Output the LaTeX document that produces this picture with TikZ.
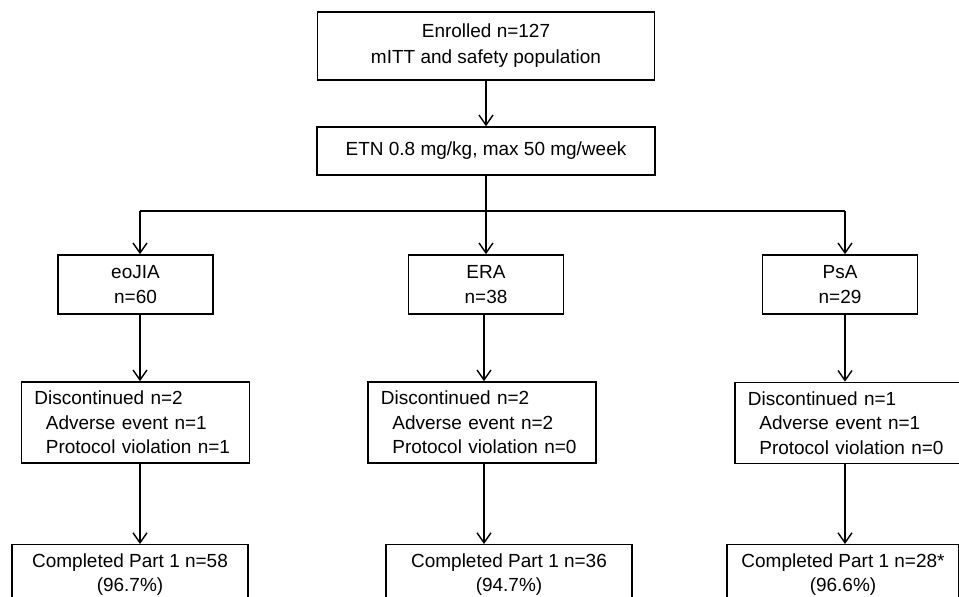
\documentclass[tikz,border=0pt]{standalone}
\usepackage{fontspec}
\setmainfont{Liberation Sans}
\usetikzlibrary{arrows.meta}

\begin{document}
\begin{tikzpicture}[x=0.025cm,y=-0.025cm,
    >={Straight Barb[length=2.5mm,width=3.5mm]},
    every node/.style={font=\fontsize{13.5}{17.5}\selectfont},
    box/.style={draw,line width=1pt,inner sep=0pt,align=center},
    group/.style={box,minimum width=3.88cm,minimum height=1.48cm},
    reason/.style={box,align=left,text width=5.05cm,minimum width=5.7cm,minimum height=2.03cm},
    done/.style={box,anchor=north,minimum height=1.5cm},
    flow/.style={->,line width=1pt}]

    \useasboundingbox (0,0) rectangle (959,597);
    \clip (0,0) rectangle (959,597);

    % enrolment and treatment
    \node[box,minimum width=8.43cm,minimum height=1.7cm] (enrol) at (486,46) {Enrolled n=127\\[1pt]mITT and safety population};
    \node[box,minimum width=8.45cm,minimum height=1.2cm] (etn) at (486,151) {ETN 0.8 mg/kg, max 50 mg/week};
    \draw[flow] (enrol) -- (etn);

    % columns of the three groups
    \coordinate (colA) at (140,211);
    \coordinate (colB) at (484,211);
    \coordinate (colC) at (845,211);

    \node[group] (eojia) at (135.5,284.5) {eoJIA\\n=60};
    \node[group] (era) at (486,284.5) {ERA\\n=38};
    \node[group] (psa) at (840,284.5) {PsA\\n=29};

    \draw[flow] (etn.south) -- (era.north);
    \draw[line width=1pt] (colA) -- (colC);
    \draw[flow] (colA) -- (colA |- eojia.north);
    \draw[flow] (colC) -- (colC |- psa.north);

    % discontinued
    \node[reason] (discA) at (135.5,422.5) {Discontinued n=2\\\hspace*{0.6em}Adverse event n=1\\\hspace*{0.6em}Protocol violation n=1};
    \node[reason] (discB) at (482,422.5) {Discontinued n=2\\\hspace*{0.6em}Adverse event n=2\\\hspace*{0.6em}Protocol violation n=0};
    \node[reason] (discC) at (849,423) {Discontinued n=1\\\hspace*{0.6em}Adverse event n=1\\\hspace*{0.6em}Protocol violation n=0};

    \draw[flow] (eojia.south -| colA) -- (discA.north -| colA);
    \draw[flow] (era.south -| colB) -- (discB.north -| colB);
    \draw[flow] (psa.south -| colC) -- (discC.north -| colC);

    % completed part 1
    \node[done,minimum width=5.9cm] (compA) at (130,544) {Completed Part 1 n=58\\(96.7\%)};
    \node[done,minimum width=6.15cm] (compB) at (509,544) {Completed Part 1 n=36\\(94.7\%)};
    \node[done,minimum width=5.8cm] (compC) at (843,544) {Completed Part 1 n=28*\\(96.6\%)};

    \draw[flow] (discA.south -| colA) -- (compA.north -| colA);
    \draw[flow] (discB.south -| colB) -- (compB.north -| colB);
    \draw[flow] (discC.south -| colC) -- (compC.north -| colC);

\end{tikzpicture}
\end{document}
